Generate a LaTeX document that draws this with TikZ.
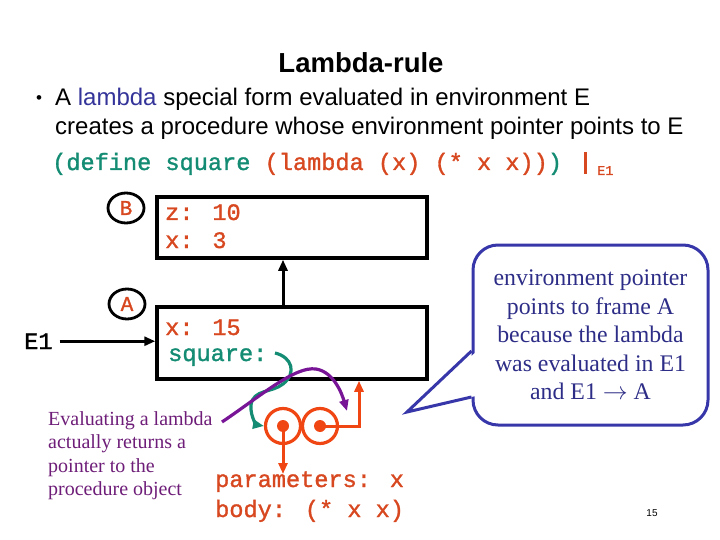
\documentclass[tikz,border=0pt]{standalone}
\usepackage{fontspec}
\setmainfont{Liberation Serif}
\setsansfont{Liberation Sans}
\setmonofont{Liberation Mono}
\newfontfamily\codefont{Liberation Mono}[FakeBold=1.3]
\usetikzlibrary{arrows.meta,shapes.geometric,calc}
\definecolor{codeteal}{RGB}{20,140,115}
\definecolor{codered}{RGB}{215,72,32}
\definecolor{procorange}{RGB}{240,70,20}
\definecolor{lambdablue}{RGB}{51,51,153}
\definecolor{callblue}{RGB}{55,55,170}
\definecolor{calltext}{RGB}{45,45,135}
\definecolor{purpletext}{RGB}{110,30,120}
\definecolor{purpleline}{RGB}{120,20,150}
\begin{document}
\begin{tikzpicture}[x=1pt,y=-1pt,
  tt/.style={font=\fontsize{23.6}{28}\selectfont\codefont, inner sep=0pt, anchor=base west},
  sans/.style={font=\fontsize{24}{28}\selectfont\sffamily, inner sep=0pt, anchor=base west},
  serifnote/.style={font=\fontsize{20}{23.5}\selectfont\rmfamily, inner sep=0pt, anchor=base west, text=purpletext},
  framebox/.style={draw, line width=3.5pt, minimum width=270pt, inner sep=0pt},
  label oval/.style={draw, ellipse, line width=2.8pt, minimum width=36pt, minimum height=30pt, inner sep=0pt,
     text=codered, font=\fontsize{21}{24}\selectfont\codefont},
  tip/.style={-{Triangle[length=11pt,width=9pt]}},
  arr/.style={line width=3pt, tip},
  cell/.style={draw=procorange, circle, line width=3.2pt, minimum size=35pt, inner sep=0pt},
  dot/.style={fill=procorange, circle, minimum size=12pt, inner sep=0pt}]
\path[use as bounding box] (0,0) rectangle (720,540);

% title and bullet
\node[font=\fontsize{27.5}{32}\selectfont\sffamily\bfseries, inner sep=0pt, anchor=base] (title) at (361,73) {Lambda-rule};
\node[font=\fontsize{17}{20}\selectfont\sffamily, inner sep=0pt, anchor=base west] (bullet) at (36,104) {•};
\node[sans] (line1) at (55,106) {A \textcolor{lambdablue}{lambda} special form evaluated in environment E};
\node[sans] (line2) at (55,135) {creates a procedure whose environment pointer points to E};

% code line
\node[tt, text=codeteal] (code) at (52,170) {(define square \textcolor{codered}{(lambda (x) (* x x))})};
\draw[codered, line width=3pt] (585,152) -- (585,174);
\node[tt, font=\fontsize{13.5}{15}\selectfont\codefont, text=codered] (e1sub) at (597,175) {E1};

% frames
\node[framebox, minimum height=61pt] (frameB) at (292,227.5) {};
\node[framebox, minimum height=72pt] (frameA) at (292,343) {};
\node[label oval] (ovalB) at (126,208) {B};
\node[label oval] (ovalA) at (127,304) {A};
\node[tt, text=codered] (z10) at (165,220) {z: 10};
\node[tt, text=codered] (x3) at (165,248) {x: 3};
\node[tt, text=codered] (x15) at (165,335) {x: 15};
\node[tt, text=codeteal] (sq) at (168,361) {square:};

\coordinate (upx) at (283,0);
\draw[arr] (upx |- frameA.north) -- (upx |- frameB.south);

\node[tt, text=black] (E1) at (24,349) {E1};
\draw[arr] ([xshift=7pt]E1.east) -- (E1.east -| frameA.west);

% procedure object
\node[cell] (c1) at (283,426) {};
\node[cell] (c2) at (320,426) {};
\node[dot] (d1) at (c1.center) {};
\node[dot] (d2) at (c2.center) {};
\node[tt, text=codered] (params) at (215,487) {parameters: x};
\node[tt, text=codered] (body) at (215,517) {body: (* x x)};
\coordinate (envx) at (359,0);
\draw[procorange, line width=3pt, tip] (d1.center) -- (d1.center |- 0,474);
\draw[procorange, line width=3pt, tip] (d2.center) -- (envx |- d2.center) -- (envx |- frameA.south);

% teal pointer from square:
\draw[codeteal, line width=3.2pt, tip]
  (275,353) .. controls (292,357) and (297,373) .. (283,384)
  .. controls (272,393) and (253,389) .. (251,405)
  .. controls (250,418) and (258,425) .. (c1.west);

% purple note and curve
\node[serifnote] (n1) at (48,425) {Evaluating a lambda};
\node[serifnote] (n2) at (48,448) {actually returns a};
\node[serifnote] (n3) at (48,472) {pointer to the};
\node[serifnote] (n4) at (48,495) {procedure object};
\draw[purpleline, line width=3.2pt, tip]
  (222,422) .. controls (262,395) and (295,366) .. (316,369)
  .. controls (334,372) and (342,394) .. (347,411);

% callout
\node[draw=callblue, line width=3pt, rounded corners=25pt, minimum width=235pt, minimum height=180pt,
      align=center, text=calltext, font=\fontsize{23.8}{28.5}\selectfont\rmfamily, inner sep=0pt]
  (callout) at (590.5,335)
  {environment pointer\\points to frame A\\because the lambda\\was evaluated in E1\\and E1 $\rightarrow$ A};
\coordinate (ptip) at (407,412);
\fill[white] (476,352) -- (411,409) -- (476,396) -- cycle;
\draw[callblue, line width=3pt, line join=miter] (callout.west |- 0,351) -- (ptip) -- (callout.west |- 0,397);

% page number
\node[font=\fontsize{10}{12}\selectfont\sffamily, inner sep=0pt] (pagenum) at (652,513) {15};
\end{tikzpicture}
\end{document}
